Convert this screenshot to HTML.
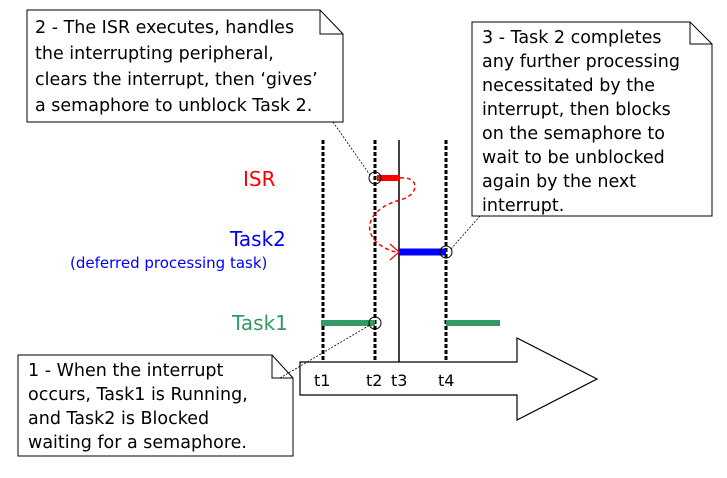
<!DOCTYPE html>
<html><head><meta charset="utf-8"><style>
body{margin:0;background:#fff;width:727px;height:473px;overflow:hidden}
text{font-family:"DejaVu Sans","Liberation Sans",sans-serif}
</style></head><body>
<svg width="727" height="473" xmlns="http://www.w3.org/2000/svg">
<!-- big arrow -->
<path d="M300,362 H517 V338 L597,379 L517,420 V395 H300 Z" fill="#fff" stroke="#000" stroke-width="1.2"/>
<!-- vertical lines -->
<g stroke="#000" stroke-width="3" stroke-dasharray="4,2">
<line x1="323" y1="140" x2="323" y2="362"/>
<line x1="375" y1="140" x2="375" y2="362"/>
<line x1="446" y1="140" x2="446" y2="362"/>
</g>
<line x1="399" y1="140" x2="399" y2="362" stroke="#000" stroke-width="1.5"/>
<g font-size="16" fill="#000">
<text x="314" y="386">t1</text><text x="366" y="386">t2</text><text x="391" y="386">t3</text><text x="438" y="386">t4</text>
</g>
<!-- bars -->
<line x1="377" y1="178" x2="399" y2="178" stroke="#f00" stroke-width="6"/>
<line x1="399" y1="252" x2="446" y2="252" stroke="#00f" stroke-width="7"/>
<line x1="321" y1="323" x2="375" y2="323" stroke="#339966" stroke-width="6"/>
<line x1="446" y1="323" x2="500" y2="323" stroke="#339966" stroke-width="6"/>
<!-- red curve -->
<path d="M400,178 C420,176 420,195 400,200 C370,208 360,230 380,245 C388,250 393,252 398,252" fill="none" stroke="#f00" stroke-width="1.5" stroke-dasharray="4,3"/>
<path d="M390,244 L399,252 L390,260" fill="none" stroke="#f00" stroke-width="1.2"/>
<!-- circles -->
<g fill="none" stroke="#000" stroke-width="1">
<circle cx="375" cy="178" r="6"/><circle cx="446" cy="252" r="6"/><circle cx="375" cy="323" r="6"/>
</g>
<!-- leaders -->
<g stroke="#000" stroke-width="0.8" stroke-dasharray="2,1.5">
<line x1="333" y1="122" x2="370" y2="175"/>
<line x1="480" y1="216" x2="451" y2="249"/>
<line x1="280" y1="378" x2="370" y2="325"/>
</g>
<!-- labels -->
<text x="243" y="186" font-size="20" fill="#f00">ISR</text>
<text x="230" y="246" font-size="20" fill="#00f">Task2</text>
<text x="70" y="268" font-size="15" fill="#00f">(deferred processing task)</text>
<text x="232" y="330" font-size="20" fill="#339966">Task1</text>
<!-- box 2 -->
<path d="M27,10 H320 L343,34 V122 H27 Z M320,10 V34 H343" fill="#fff" stroke="#000" stroke-width="1"/>
<g font-size="17.5" fill="#000">
<text x="35" y="33">2 - The ISR executes, handles</text>
<text x="35" y="59">the interrupting peripheral,</text>
<text x="35" y="85">clears the interrupt, then ‘gives’</text>
<text x="35" y="111">a semaphore to unblock Task 2.</text>
</g>
<!-- box 3 -->
<path d="M472,22 H690 L712,44 V216 H472 Z M690,22 V44 H712" fill="#fff" stroke="#000" stroke-width="1"/>
<g font-size="17.5" fill="#000">
<text x="482" y="43">3 - Task 2 completes</text>
<text x="482" y="67">any further processing</text>
<text x="482" y="91">necessitated by the</text>
<text x="482" y="115">interrupt, then blocks</text>
<text x="482" y="139">on the semaphore to</text>
<text x="482" y="163">wait to be unblocked</text>
<text x="482" y="187">again by the next</text>
<text x="482" y="211">interrupt.</text>
</g>
<!-- box 1 -->
<path d="M18,355 H272 L293,378 V456 H18 Z M272,355 V378 H293" fill="#fff" stroke="#000" stroke-width="1"/>
<g font-size="17.5" fill="#000">
<text x="28" y="376">1 - When the interrupt</text>
<text x="28" y="400">occurs, Task1 is Running,</text>
<text x="28" y="424">and Task2 is Blocked</text>
<text x="28" y="448">waiting for a semaphore.</text>
</g>
</svg>
</body></html>
